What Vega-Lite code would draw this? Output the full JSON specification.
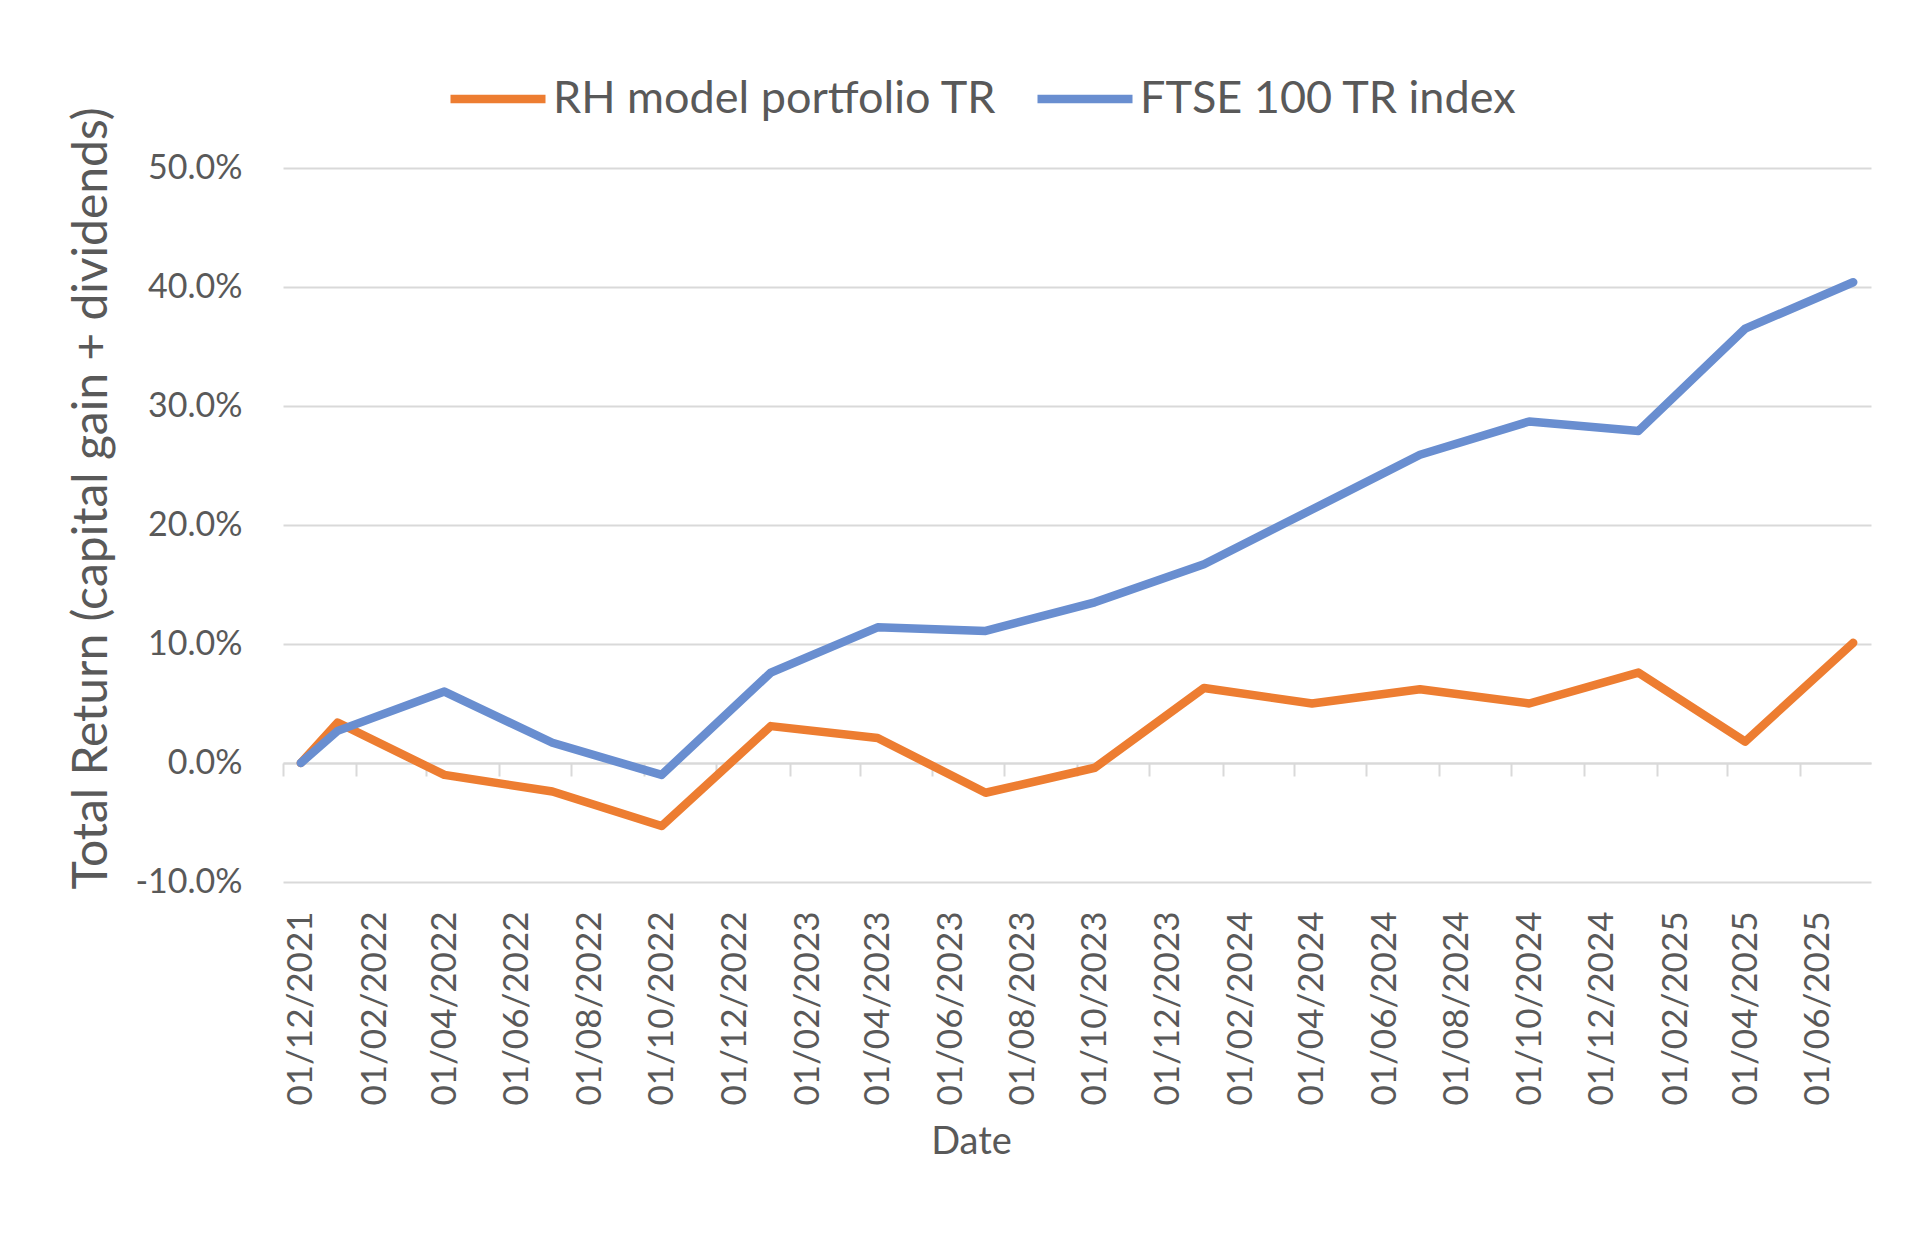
{
  "$schema": "https://vega.github.io/schema/vega-lite/v6.json",
  "width": 1588,
  "height": 714,
  "autosize": "none",
  "padding": {"left": 283, "top": 168, "right": 53, "bottom": 355},
  "background": "white",
  "data": {
    "values": [
      {"date": "2021-12-01", "series": "RH model portfolio TR", "value": 0.0},
      {"date": "2022-01-01", "series": "RH model portfolio TR", "value": 0.034},
      {"date": "2022-04-01", "series": "RH model portfolio TR", "value": -0.010},
      {"date": "2022-07-01", "series": "RH model portfolio TR", "value": -0.024},
      {"date": "2022-10-01", "series": "RH model portfolio TR", "value": -0.053},
      {"date": "2023-01-01", "series": "RH model portfolio TR", "value": 0.031},
      {"date": "2023-04-01", "series": "RH model portfolio TR", "value": 0.021},
      {"date": "2023-07-01", "series": "RH model portfolio TR", "value": -0.025},
      {"date": "2023-10-01", "series": "RH model portfolio TR", "value": -0.004},
      {"date": "2024-01-01", "series": "RH model portfolio TR", "value": 0.063},
      {"date": "2024-04-01", "series": "RH model portfolio TR", "value": 0.050},
      {"date": "2024-07-01", "series": "RH model portfolio TR", "value": 0.062},
      {"date": "2024-10-01", "series": "RH model portfolio TR", "value": 0.050},
      {"date": "2025-01-01", "series": "RH model portfolio TR", "value": 0.076},
      {"date": "2025-04-01", "series": "RH model portfolio TR", "value": 0.018},
      {"date": "2025-07-01", "series": "RH model portfolio TR", "value": 0.101},
      {"date": "2021-12-01", "series": "FTSE 100 TR index", "value": 0.0},
      {"date": "2022-01-01", "series": "FTSE 100 TR index", "value": 0.027},
      {"date": "2022-04-01", "series": "FTSE 100 TR index", "value": 0.060},
      {"date": "2022-07-01", "series": "FTSE 100 TR index", "value": 0.017},
      {"date": "2022-10-01", "series": "FTSE 100 TR index", "value": -0.010},
      {"date": "2023-01-01", "series": "FTSE 100 TR index", "value": 0.076},
      {"date": "2023-04-01", "series": "FTSE 100 TR index", "value": 0.114},
      {"date": "2023-07-01", "series": "FTSE 100 TR index", "value": 0.111},
      {"date": "2023-10-01", "series": "FTSE 100 TR index", "value": 0.135},
      {"date": "2024-01-01", "series": "FTSE 100 TR index", "value": 0.167},
      {"date": "2024-04-01", "series": "FTSE 100 TR index", "value": 0.213},
      {"date": "2024-07-01", "series": "FTSE 100 TR index", "value": 0.259},
      {"date": "2024-10-01", "series": "FTSE 100 TR index", "value": 0.287},
      {"date": "2025-01-01", "series": "FTSE 100 TR index", "value": 0.279},
      {"date": "2025-04-01", "series": "FTSE 100 TR index", "value": 0.365},
      {"date": "2025-07-01", "series": "FTSE 100 TR index", "value": 0.404}
    ]
  },
  "mark": {"type": "line", "strokeWidth": 8.5, "strokeCap": "round", "strokeJoin": "round"},
  "encoding": {
    "x": {
      "field": "date",
      "type": "temporal",
      "scale": {
        "type": "utc",
        "domain": [
          {"year": 2021, "month": 11, "date": 16, "utc": true},
          {"year": 2025, "month": 7, "date": 16, "utc": true}
        ]
      },
      "axis": {
        "title": "Date",
        "values": [
          {"year": 2021, "month": 12, "date": 1, "utc": true},
          {"year": 2022, "month": 2, "date": 1, "utc": true},
          {"year": 2022, "month": 4, "date": 1, "utc": true},
          {"year": 2022, "month": 6, "date": 1, "utc": true},
          {"year": 2022, "month": 8, "date": 1, "utc": true},
          {"year": 2022, "month": 10, "date": 1, "utc": true},
          {"year": 2022, "month": 12, "date": 1, "utc": true},
          {"year": 2023, "month": 2, "date": 1, "utc": true},
          {"year": 2023, "month": 4, "date": 1, "utc": true},
          {"year": 2023, "month": 6, "date": 1, "utc": true},
          {"year": 2023, "month": 8, "date": 1, "utc": true},
          {"year": 2023, "month": 10, "date": 1, "utc": true},
          {"year": 2023, "month": 12, "date": 1, "utc": true},
          {"year": 2024, "month": 2, "date": 1, "utc": true},
          {"year": 2024, "month": 4, "date": 1, "utc": true},
          {"year": 2024, "month": 6, "date": 1, "utc": true},
          {"year": 2024, "month": 8, "date": 1, "utc": true},
          {"year": 2024, "month": 10, "date": 1, "utc": true},
          {"year": 2024, "month": 12, "date": 1, "utc": true},
          {"year": 2025, "month": 2, "date": 1, "utc": true},
          {"year": 2025, "month": 4, "date": 1, "utc": true},
          {"year": 2025, "month": 6, "date": 1, "utc": true},
          {"year": 2025, "month": 8, "date": 1, "utc": true}
        ],
        "labelExpr": "utcyear(datum.value) == 2025 && utcmonth(datum.value) == 7 ? '' : utcFormat(datum.value, '%d/%m/%Y')",
        "labelAngle": 270,
        "labelAlign": "right",
        "labelBaseline": "middle",
        "labelFont": "Lato",
        "labelFontSize": 35,
        "labelColor": "#595959",
        "labelOverlap": false,
        "labelFlush": false,
        "labelBound": false,
        "labelLimit": 0,
        "labelPadding": 135,
        "labelOffset": 18,
        "offset": -119,
        "grid": false,
        "domainColor": "#D9D9D9",
        "domainWidth": 2,
        "tickColor": "#D9D9D9",
        "tickWidth": 2,
        "tickSize": 13,
        "tickOffset": -18,
        "titleFont": "Lato",
        "titleFontSize": 38,
        "titleFontWeight": "normal",
        "titleColor": "#595959",
        "titleX": 688,
        "titleY": 390,
        "titleBaseline": "alphabetic"
      }
    },
    "y": {
      "field": "value",
      "type": "quantitative",
      "scale": {"domain": [-0.1, 0.5], "nice": false, "zero": false},
      "axis": {
        "title": "Total Return (capital gain + dividends)",
        "values": [-0.1, 0, 0.1, 0.2, 0.3, 0.4, 0.5],
        "labelExpr": "replace(format(datum.value, '.1%'), '\u2212', '-')",
        "labelFont": "Lato",
        "labelFontSize": 34,
        "labelColor": "#595959",
        "labelPadding": 41,
        "ticks": false,
        "domain": false,
        "grid": true,
        "gridColor": "#D9D9D9",
        "gridWidth": 2,
        "titleFont": "Lato",
        "titleFontSize": 48,
        "titleFontWeight": "normal",
        "titleColor": "#595959",
        "titleAngle": 270,
        "titleX": -191,
        "titleY": 330,
        "titleAlign": "center",
        "titleBaseline": "middle"
      }
    },
    "color": {
      "field": "series",
      "type": "nominal",
      "sort": ["RH model portfolio TR", "FTSE 100 TR index"],
      "scale": {
        "domain": ["RH model portfolio TR", "FTSE 100 TR index"],
        "range": ["#ED7D31", "#698ED0"]
      },
      "legend": {
        "title": null,
        "orient": "none",
        "direction": "horizontal",
        "legendX": 163,
        "legendY": -121,
        "padding": 0,
        "symbolType": "stroke",
        "symbolSize": 9025,
        "symbolStrokeWidth": 8.5,
        "labelFont": "Lato",
        "labelFontSize": 45,
        "labelColor": "#595959",
        "labelOffset": 3,
        "columnPadding": 23,
        "labelLimit": 0
      }
    }
  },
  "config": {
    "view": {"stroke": null}
  }
}
